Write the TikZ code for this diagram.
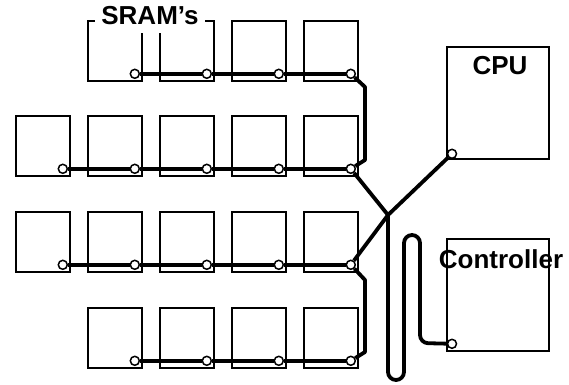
\documentclass[tikz,border=0pt]{standalone}
\usepackage{fontspec}
\setmainfont{Liberation Sans}
\usetikzlibrary{positioning,calc}

\tikzset{
  chip/.style={draw,line width=1.8pt,minimum width=54pt,minimum height=60pt,
               inner sep=0pt,anchor=north west},
  bigchip/.style={draw,line width=1.8pt,minimum width=102pt,minimum height=112pt,
                  inner sep=0pt,anchor=north west},
  pin/.style={circle,draw,fill=white,line width=1.5pt,minimum size=9pt,inner sep=0pt},
  bus/.style={line width=3.8pt,line join=round},
  lbl/.style={font=\fontsize{26}{30}\selectfont\bfseries}
}

\begin{document}
\begin{tikzpicture}[x=1pt,y=-1pt]
    \useasboundingbox (0,0) rectangle (569,384);
    % SRAM rows
    \foreach \r/\y/\first in {1/20/1,2/115/0,3/211/0,4/307/1}{
        \foreach \c in {\first,...,4}{
            \node[chip] (s-\r-\c) at (15+72*\c,\y) {};
            \node[pin] (p-\r-\c) at ($(s-\r-\c.south east)+(-8,-8)$) {};
        }
    }
    \node[lbl,fill=white,inner xsep=6pt,inner ysep=8pt,anchor=south]
        (sramlbl) at (150,33) {SRAM's};
    % CPU and controller
    \node[bigchip] (cpu) at (446,46) {};
    \node[lbl] (cpulbl) at (500,66) {CPU};
    \node[pin] (cpupin) at ($(cpu.south west)+(6,-6)$) {};
    \node[bigchip] (ctrl) at (446,238) {};
    \node[lbl] (ctrllbl) at (501,259) {Controller};
    \node[pin] (ctrlpin) at ($(ctrl.south west)+(6,-8)$) {};
    % buses along the rows
    \foreach \r/\first in {1/1,2/0,3/0,4/1}{
        \foreach \c [evaluate=\c as \n using int(\c+1)] in {\first,...,3}{
            \draw[bus] (p-\r-\c) -- (p-\r-\n);
        }
    }
    % row links and hub
    \coordinate (k1) at (365,87);
    \coordinate (k2) at (365,160);
    \coordinate (k3) at (365,280);
    \coordinate (k4) at (365,352);
    \coordinate (hub) at (388,215);
    \draw[bus] (p-1-4) -- (k1) -- (k2) -- (p-2-4);
    \draw[bus] (p-3-4) -- (k3) -- (k4) -- (p-4-4);
    \draw[bus] (p-2-4) -- (hub) -- (cpupin);
    \draw[bus] (p-3-4) -- (hub);
    \draw[bus,rounded corners=8pt] (hub) -- (388,380) -- (404,380) -- (404,235)
        -- (420,235) -- (420,343) -- (ctrlpin);
\end{tikzpicture}
\end{document}
